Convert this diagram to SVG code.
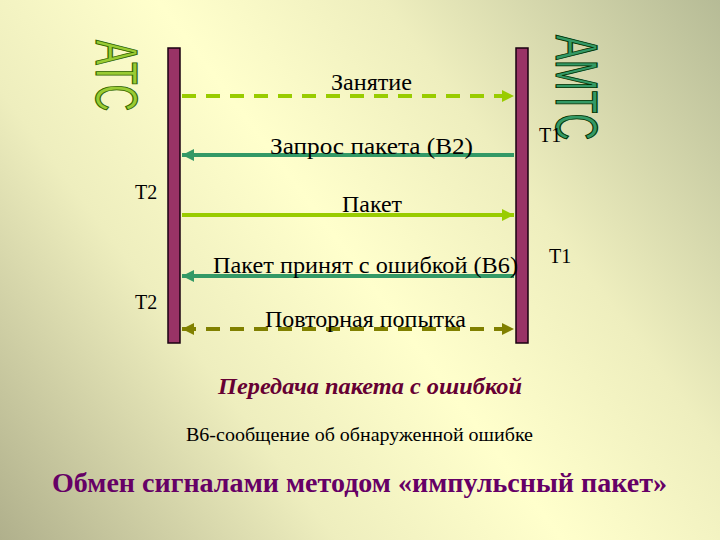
<svg xmlns="http://www.w3.org/2000/svg" width="720" height="540" viewBox="0 0 720 540">
<defs>
<linearGradient id="bg" gradientUnits="userSpaceOnUse" x1="720" y1="0" x2="0" y2="540">
<stop offset="0" stop-color="#b6bb96"/>
<stop offset="0.3" stop-color="#eeeebe"/>
<stop offset="0.5" stop-color="#ffffcc"/>
<stop offset="0.7" stop-color="#eeeebe"/>
<stop offset="1" stop-color="#b0b08c"/>
</linearGradient>
<marker id="ay" viewBox="0 0 10 10" refX="10" refY="5" markerWidth="3.2" markerHeight="3" markerUnits="strokeWidth" orient="auto-start-reverse"><path d="M0,0 L10,5 L0,10 z" fill="#99cc00"/></marker>
<marker id="ag" viewBox="0 0 10 10" refX="10" refY="5" markerWidth="3.2" markerHeight="3" markerUnits="strokeWidth" orient="auto-start-reverse"><path d="M0,0 L10,5 L0,10 z" fill="#339966"/></marker>
<marker id="ao" viewBox="0 0 10 10" refX="10" refY="5" markerWidth="3.2" markerHeight="3" markerUnits="strokeWidth" orient="auto-start-reverse"><path d="M0,0 L10,5 L0,10 z" fill="#808000"/></marker>
</defs>
<style>
.bar{fill:#993366;stroke:#1a0010;stroke-width:1.5}
.serif{font-family:"Liberation Serif","Times New Roman",Tinos,"Noto Serif","DejaVu Serif",FreeSerif,serif}
.lbl{font-size:23px;fill:#000}
.t{font-size:20px;fill:#000}
.big{font-family:"Liberation Sans",Arial,"DejaVu Sans",sans-serif;font-size:60px;stroke-width:1.2}
.ln{stroke-width:4;fill:none}
</style>
<rect width="720" height="540" fill="url(#bg)"/>

<g id="atc">
<rect class="bar" x="168" y="48" width="12" height="295"/>
<text class="big" transform="translate(96,40) rotate(90) scale(0.62,1)" fill="#99cc33" stroke="#336600">АТС</text>
</g>
<g id="amtc">
<rect class="bar" x="516" y="48" width="12" height="295"/>
<text class="big" transform="translate(556,35) rotate(90) scale(0.62,1)" fill="#339966" stroke="#003300">АМТС</text>
</g>

<g id="connectors">
<line class="ln" x1="182" y1="96" x2="514" y2="96" stroke="#99cc00" stroke-dasharray="14,10" marker-end="url(#ay)"/>
<line class="ln" x1="514" y1="155" x2="182" y2="155" stroke="#339966" marker-end="url(#ag)"/>
<line class="ln" x1="182" y1="215" x2="514" y2="215" stroke="#99cc00" marker-end="url(#ay)"/>
<line class="ln" x1="514" y1="276" x2="182" y2="276" stroke="#339966" marker-end="url(#ag)"/>
<line class="ln" x1="182" y1="329" x2="514" y2="329" stroke="#808000" stroke-dasharray="14,10" marker-start="url(#ao)" marker-end="url(#ao)"/>
</g>

<g id="labels" class="serif">
<text class="lbl" x="331" y="90" textLength="81" lengthAdjust="spacingAndGlyphs">Занятие</text>
<text class="lbl" x="270" y="154" textLength="203" lengthAdjust="spacingAndGlyphs">Запрос пакета (В2)</text>
<text class="lbl" x="342" y="212" textLength="60" lengthAdjust="spacingAndGlyphs">Пакет</text>
<text class="lbl" x="213" y="273" textLength="305" lengthAdjust="spacingAndGlyphs">Пакет принят с ошибкой (В6)</text>
<text class="lbl" x="265" y="327" textLength="201" lengthAdjust="spacingAndGlyphs">Повторная попытка</text>
<text class="t" x="539" y="142">T1</text>
<text class="t" x="549" y="263">T1</text>
<text class="t" x="135" y="199">T2</text>
<text class="t" x="135" y="309">T2</text>
</g>

<g class="serif">
<text x="218" y="394" textLength="304" lengthAdjust="spacingAndGlyphs" font-size="23" font-weight="bold" font-style="italic" fill="#660033">Передача пакета с ошибкой</text>
<text x="186" y="441" textLength="347" lengthAdjust="spacingAndGlyphs" font-size="19" fill="#000">В6-сообщение об обнаруженной ошибке</text>
<text x="52" y="492" textLength="615" lengthAdjust="spacingAndGlyphs" font-size="28" font-weight="bold" fill="#660066">Обмен сигналами методом «импульсный пакет»</text>
</g>
</svg>
